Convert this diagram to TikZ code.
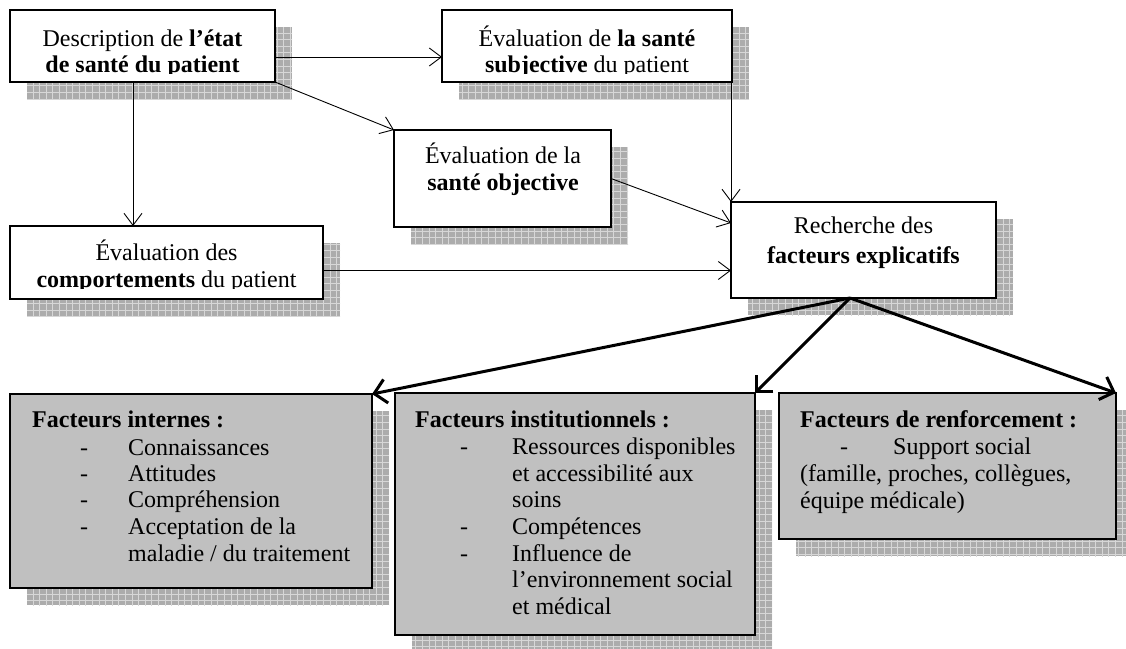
\documentclass[tikz,border=0pt]{standalone}
\usepackage{fontspec}
\setmainfont{Liberation Serif}
\usetikzlibrary{arrows.meta,backgrounds}
\definecolor{boxgray}{RGB}{192,192,192}
\definecolor{shadowgray}{RGB}{172,172,172}
\definecolor{shadowline}{RGB}{215,215,215}
\newcommand\myshadow[1]{%
  \fill[shadowgray] ([shift={(17,17)}]#1.north west) rectangle ([shift={(17,17)}]#1.south east);
  \begin{scope}
    \clip ([shift={(17,17)}]#1.north west) rectangle ([shift={(17,17)}]#1.south east);
    \draw[shadowline, line width=0.7pt, step=6.6pt] (0,0) grid (1140,660);
  \end{scope}}
\begin{document}
\begin{tikzpicture}[x=1pt,y=-1pt,
  box/.style={draw=black, line width=1.6pt, fill=white, inner sep=0pt, outer sep=0pt},
  gbox/.style={box, fill=boxgray},
  thinarrow/.style={line width=0.9pt, -{Straight Barb[length=12pt,width=18pt,line width=0.9pt]}},
  thickarrow/.style={line width=3pt, -{Straight Barb[length=12pt,width=24pt,line width=3pt]}},
  txt/.style={anchor=base, inner sep=0pt, font=\fontsize{24}{26}\selectfont},
  ltxt/.style={txt, anchor=base west}
]
\useasboundingbox (0,0) rectangle (1126,648);

% boxes
\node[box, minimum width=265pt, minimum height=72pt] (A) at (142.5,46) {};
\node[box, minimum width=290pt, minimum height=72pt] (B) at (587,46) {};
\node[box, minimum width=217pt, minimum height=97pt] (C) at (502.5,178.5) {};
\node[box, minimum width=265pt, minimum height=96pt] (D) at (863.5,250) {};
\node[box, minimum width=313pt, minimum height=73pt] (E) at (166.5,262.5) {};
\node[gbox, minimum width=362pt, minimum height=194pt] (F) at (191,491) {};
\node[gbox, minimum width=360pt, minimum height=242pt] (G) at (575,514) {};
\node[gbox, minimum width=337pt, minimum height=146pt] (H) at (947.5,466) {};

\begin{pgfonlayer}{background}
  \myshadow{A}\myshadow{B}\myshadow{C}\myshadow{D}
  \myshadow{E}\myshadow{F}\myshadow{G}\myshadow{H}
\end{pgfonlayer}

% texts
\node[txt] (A1) at (142.5,46) {Description de \textbf{l’état}};
\begin{scope}
  \clip (A.north west) rectangle (A.east |- 0,73);
  \node[txt] (A2) at (142.5,72) {\textbf{de santé du patient}};
\end{scope}
\node[txt] (B1) at (587,46) {Évaluation de \textbf{la santé}};
\begin{scope}
  \clip (B.north west) rectangle (B.east |- 0,73);
  \node[txt] (B2) at (587,72) {\textbf{subjective} du patient};
\end{scope}
\node[txt] (C1) at (503,163) {Évaluation de la};
\node[txt] (C2) at (503,190) {\textbf{santé objective}};
\node[txt] (D1) at (863.5,233) {Recherche des};
\node[txt] (D2) at (863.5,263) {\textbf{facteurs explicatifs}};
\node[txt] (E1) at (166.5,260) {Évaluation des};
\begin{scope}
  \clip (E.north west) rectangle (E.east |- 0,288);
  \node[txt] (E2) at (166.5,287) {\textbf{comportements} du patient};
\end{scope}

\node[ltxt] (F0) at (32,427) {\textbf{Facteurs internes :}};
\node[ltxt] (Fd1) at (80,455) {-};
\node[ltxt] (F1) at (128,455) {Connaissances};
\node[ltxt] (Fd2) at (80,481) {-};
\node[ltxt] (F2) at (128,481) {Attitudes};
\node[ltxt] (Fd3) at (80,507) {-};
\node[ltxt] (F3) at (128,507) {Compréhension};
\node[ltxt] (Fd4) at (80,534) {-};
\node[ltxt] (F4) at (128,534) {Acceptation de la};
\node[ltxt] (F5) at (128,561) {maladie / du traitement};

\node[ltxt] (G0) at (415,427) {\textbf{Facteurs institutionnels :}};
\node[ltxt] (Gd1) at (460,454) {-};
\node[ltxt] (G1) at (512,454) {Ressources disponibles};
\node[ltxt] (G2) at (512,481) {et accessibilité aux};
\node[ltxt] (G3) at (512,507) {soins};
\node[ltxt] (Gd2) at (460,534) {-};
\node[ltxt] (G4) at (512,534) {Compétences};
\node[ltxt] (Gd3) at (460,561) {-};
\node[ltxt] (G5) at (512,561) {Influence de};
\node[ltxt] (G6) at (512,587) {l’environnement social};
\node[ltxt] (G7) at (512,614) {et médical};

\node[ltxt] (H0) at (800,427) {\textbf{Facteurs de renforcement :}};
\node[ltxt] (Hd1) at (840,454) {-};
\node[ltxt] (H1) at (893,454) {Support social};
\node[ltxt] (H2) at (800,481) {(famille, proches, collègues,};
\node[ltxt] (H3) at (800,508) {équipe médicale)};

% connectors
\draw[thinarrow] ([yshift=-11pt]A.east) -- ([yshift=-11pt]B.west);
\draw[thinarrow] (A.south east) -- (C.north west);
\draw[thinarrow] ([xshift=-9.5pt]A.south) -- ([xshift=-9.5pt]A.south |- E.north);
\draw[thinarrow] ([xshift=-1pt]B.south east) -- (D.north west);
\draw[thinarrow] (C.east) -- ([yshift=27pt]D.west);
\draw[thinarrow] ([yshift=-8pt]E.east) -- ([yshift=-8pt]E.east -| D.west);

\coordinate (Dout) at ([xshift=-13.5pt]D.south);
\draw[thickarrow] (Dout) -- (F.north east);
\draw[thickarrow] (Dout) -- (G.north east);
\draw[thickarrow] (Dout) -- (H.north east);
\end{tikzpicture}
\end{document}
